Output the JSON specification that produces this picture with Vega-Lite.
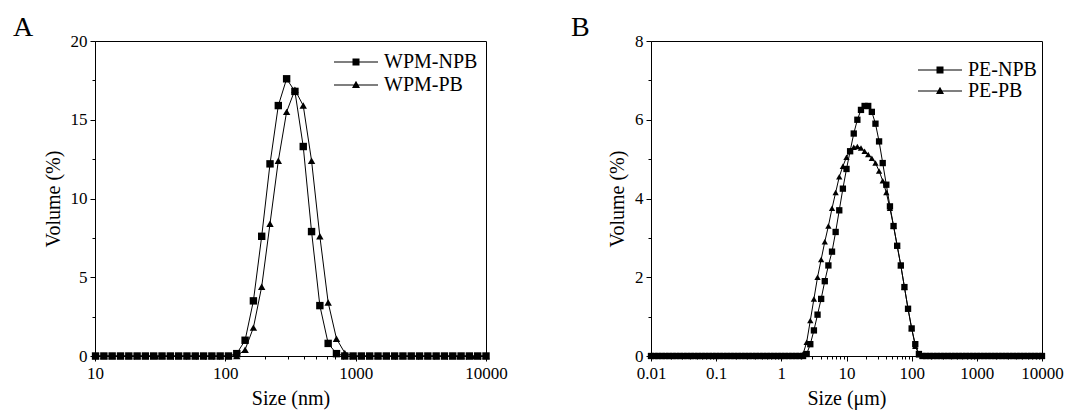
{
"$schema":"https://vega.github.io/schema/vega-lite/v6.json",
"padding":{"left":12,"top":13,"right":5,"bottom":5},
"datasets":{
"a":[
{"x":10.1,"NPB":0,"PB":0},{"x":11.7,"NPB":0,"PB":0},{"x":13.54,"NPB":0,"PB":0},{"x":15.69,"NPB":0,"PB":0},{"x":18.17,"NPB":0,"PB":0},{"x":21.04,"NPB":0,"PB":0},{"x":24.36,"NPB":0,"PB":0},{"x":28.21,"NPB":0,"PB":0},{"x":32.67,"NPB":0,"PB":0},{"x":37.84,"NPB":0,"PB":0},{"x":43.82,"NPB":0,"PB":0},{"x":50.75,"NPB":0,"PB":0},{"x":58.77,"NPB":0,"PB":0},{"x":68.06,"NPB":0,"PB":0},{"x":78.82,"NPB":0,"PB":0},{"x":91.28,"NPB":0,"PB":0},{"x":105.7,"NPB":0,"PB":0},
{"x":122.4,"NPB":0.15,"PB":0},{"x":141.8,"NPB":1.0,"PB":0.4},{"x":164.2,"NPB":3.5,"PB":1.8},{"x":190.1,"NPB":7.6,"PB":4.4},{"x":220.2,"NPB":12.2,"PB":8.4},{"x":255,"NPB":15.9,"PB":12.4},{"x":295.3,"NPB":17.6,"PB":15.5},{"x":342,"NPB":16.8,"PB":16.9},{"x":396.1,"NPB":13.3,"PB":15.9},{"x":458.7,"NPB":7.9,"PB":12.4},{"x":531.2,"NPB":3.2,"PB":7.6},{"x":615.1,"NPB":0.8,"PB":3.4},{"x":712.4,"NPB":0.15,"PB":1.1},{"x":825,"NPB":0,"PB":0.2},
{"x":955.4,"NPB":0,"PB":0},{"x":1106,"NPB":0,"PB":0},{"x":1281,"NPB":0,"PB":0},{"x":1484,"NPB":0,"PB":0},{"x":1718,"NPB":0,"PB":0},{"x":1990,"NPB":0,"PB":0},{"x":2305,"NPB":0,"PB":0},{"x":2669,"NPB":0,"PB":0},{"x":3091,"NPB":0,"PB":0},{"x":3580,"NPB":0,"PB":0},{"x":4145,"NPB":0,"PB":0},{"x":4801,"NPB":0,"PB":0},{"x":5560,"NPB":0,"PB":0},{"x":6439,"NPB":0,"PB":0},{"x":7456,"NPB":0,"PB":0},{"x":8635,"NPB":0,"PB":0},{"x":10000,"NPB":0,"PB":0}
],
"b":[
{"x":0.01,"NPB":0,"PB":0},{"x":0.01136,"NPB":0,"PB":0},{"x":0.01292,"NPB":0,"PB":0},{"x":0.01468,"NPB":0,"PB":0},{"x":0.01668,"NPB":0,"PB":0},{"x":0.01896,"NPB":0,"PB":0},{"x":0.02154,"NPB":0,"PB":0},{"x":0.02448,"NPB":0,"PB":0},{"x":0.02783,"NPB":0,"PB":0},{"x":0.03162,"NPB":0,"PB":0},{"x":0.03594,"NPB":0,"PB":0},{"x":0.04084,"NPB":0,"PB":0},{"x":0.04642,"NPB":0,"PB":0},{"x":0.05275,"NPB":0,"PB":0},{"x":0.05995,"NPB":0,"PB":0},{"x":0.06813,"NPB":0,"PB":0},{"x":0.07743,"NPB":0,"PB":0},{"x":0.08799,"NPB":0,"PB":0},
{"x":0.1,"NPB":0,"PB":0},{"x":0.1136,"NPB":0,"PB":0},{"x":0.1292,"NPB":0,"PB":0},{"x":0.1468,"NPB":0,"PB":0},{"x":0.1668,"NPB":0,"PB":0},{"x":0.1896,"NPB":0,"PB":0},{"x":0.2154,"NPB":0,"PB":0},{"x":0.2448,"NPB":0,"PB":0},{"x":0.2783,"NPB":0,"PB":0},{"x":0.3162,"NPB":0,"PB":0},{"x":0.3594,"NPB":0,"PB":0},{"x":0.4084,"NPB":0,"PB":0},{"x":0.4642,"NPB":0,"PB":0},{"x":0.5275,"NPB":0,"PB":0},{"x":0.5995,"NPB":0,"PB":0},{"x":0.6813,"NPB":0,"PB":0},{"x":0.7743,"NPB":0,"PB":0},{"x":0.8799,"NPB":0,"PB":0},
{"x":1,"NPB":0,"PB":0},{"x":1.136,"NPB":0,"PB":0},{"x":1.292,"NPB":0,"PB":0},{"x":1.468,"NPB":0,"PB":0},{"x":1.668,"NPB":0,"PB":0},{"x":1.896,"NPB":0,"PB":0},{"x":2.154,"NPB":0,"PB":0.05},{"x":2.448,"NPB":0.05,"PB":0.35},{"x":2.783,"NPB":0.3,"PB":0.9},{"x":3.162,"NPB":0.65,"PB":1.45},{"x":3.594,"NPB":1.05,"PB":2.0},{"x":4.084,"NPB":1.45,"PB":2.45},{"x":4.642,"NPB":1.9,"PB":2.9},{"x":5.275,"NPB":2.3,"PB":3.3},{"x":5.995,"NPB":2.65,"PB":3.75},{"x":6.813,"NPB":3.15,"PB":4.15},{"x":7.743,"NPB":3.7,"PB":4.55},{"x":8.799,"NPB":4.25,"PB":4.82},
{"x":10,"NPB":4.75,"PB":5.05},{"x":11.36,"NPB":5.2,"PB":5.22},{"x":12.92,"NPB":5.65,"PB":5.3},{"x":14.68,"NPB":6.0,"PB":5.32},{"x":16.68,"NPB":6.25,"PB":5.28},{"x":18.96,"NPB":6.35,"PB":5.2},{"x":21.54,"NPB":6.35,"PB":5.12},{"x":24.48,"NPB":6.2,"PB":5.02},{"x":27.83,"NPB":5.9,"PB":4.9},{"x":31.62,"NPB":5.45,"PB":4.7},{"x":35.94,"NPB":4.9,"PB":4.45},{"x":40.84,"NPB":4.35,"PB":4.15},{"x":46.42,"NPB":3.8,"PB":3.75},{"x":52.75,"NPB":3.3,"PB":3.3},{"x":59.95,"NPB":2.8,"PB":2.8},{"x":68.13,"NPB":2.3,"PB":2.3},{"x":77.43,"NPB":1.75,"PB":1.75},{"x":87.99,"NPB":1.2,"PB":1.2},
{"x":100,"NPB":0.7,"PB":0.7},{"x":113.6,"NPB":0.3,"PB":0.25},{"x":129.2,"NPB":0.05,"PB":0.03},{"x":146.8,"NPB":0,"PB":0},{"x":166.8,"NPB":0,"PB":0},{"x":189.6,"NPB":0,"PB":0},{"x":215.4,"NPB":0,"PB":0},{"x":244.8,"NPB":0,"PB":0},{"x":278.3,"NPB":0,"PB":0},{"x":316.2,"NPB":0,"PB":0},{"x":359.4,"NPB":0,"PB":0},{"x":408.4,"NPB":0,"PB":0},{"x":464.2,"NPB":0,"PB":0},{"x":527.5,"NPB":0,"PB":0},{"x":599.5,"NPB":0,"PB":0},{"x":681.3,"NPB":0,"PB":0},{"x":774.3,"NPB":0,"PB":0},{"x":879.9,"NPB":0,"PB":0},
{"x":1000,"NPB":0,"PB":0},{"x":1136,"NPB":0,"PB":0},{"x":1292,"NPB":0,"PB":0},{"x":1468,"NPB":0,"PB":0},{"x":1668,"NPB":0,"PB":0},{"x":1896,"NPB":0,"PB":0},{"x":2154,"NPB":0,"PB":0},{"x":2448,"NPB":0,"PB":0},{"x":2783,"NPB":0,"PB":0},{"x":3162,"NPB":0,"PB":0},{"x":3594,"NPB":0,"PB":0},{"x":4084,"NPB":0,"PB":0},{"x":4642,"NPB":0,"PB":0},{"x":5275,"NPB":0,"PB":0},{"x":5995,"NPB":0,"PB":0},{"x":6813,"NPB":0,"PB":0},{"x":7743,"NPB":0,"PB":0},{"x":8799,"NPB":0,"PB":0},
{"x":10000,"NPB":0,"PB":0}
]
},
"hconcat":[
{
"width":391,"height":315,
"title":{"text":"A","anchor":"start","frame":"group","dx":-82,"fontSize":28,"fontWeight":"normal","font":"Liberation Serif","color":"black","offset":-10},
"data":{"name":"a"},
"transform":[{"fold":["NPB","PB"],"as":["series","vol"]}],
"layer":[
{"mark":{"type":"line","color":"black","strokeWidth":1},
"encoding":{
"x":{"field":"x","type":"quantitative","scale":{"type":"log","domain":[10,10000]},"axis":{"values":[10,100,1000,10000],"format":"~g","title":"Size (nm)","labelFlush":false,"labelOverlap":false,"orient":"bottom","labelFont":"Liberation Serif","titleFont":"Liberation Serif","labelPadding":4}},
"y":{"field":"vol","type":"quantitative","scale":{"domain":[0,20]},"axis":{"values":[0,5,10,15,20],"title":"Volume (%)","orient":"left","labelFont":"Liberation Serif","titleFont":"Liberation Serif"}},
"detail":{"field":"series"}}},
{"mark":{"type":"point","filled":true,"color":"black","opacity":1,"size":55},
"encoding":{
"x":{"field":"x","type":"quantitative","axis":{"values":[20,30,40,50,60,70,80,90,200,300,400,500,600,700,800,900,2000,3000,4000,5000,6000,7000,8000,9000],"labels":false,"domain":false,"tickSize":3,"title":null,"orient":"bottom"}},
"y":{"field":"vol","type":"quantitative","axis":{"values":[2.5,7.5,12.5,17.5],"labels":false,"domain":false,"tickSize":3,"title":null,"orient":"left"}},
"shape":{"field":"series","type":"nominal","scale":{"domain":["NPB","PB"],"range":["square","triangle-up"]},"legend":null}}},
{"transform":[{"filter":"false"}],
"mark":{"type":"point","filled":true,"color":"black"},
"encoding":{
"x":{"field":"x","type":"quantitative","axis":null},
"y":{"field":"vol","type":"quantitative","axis":null},
"shape":{"field":"series","type":"nominal","scale":{"domain":["NPB","PB"],"range":["M-4.4,-0.1H4.4V0.1H-4.4ZM-0.7,-0.7H0.7V0.7H-0.7Z","M-4.4,-0.1H4.4V0.1H-4.4ZM0,-0.85L0.8,0.6H-0.8Z"]},
"legend":{"orient":"none","legendX":251,"legendY":11,"title":null,"labelExpr":"'WPM-' + datum.label","labelFontSize":20,"labelFont":"Liberation Serif","labelColor":"black","symbolSize":100,"symbolFillColor":"black","symbolStrokeColor":"black","symbolStrokeWidth":0,"symbolOpacity":1,"labelOffset":18,"rowPadding":3,"padding":0}}}}
],
"resolve":{"axis":{"x":"independent","y":"independent"},"scale":{"shape":"independent"}}
},
{
"width":391,"height":315,
"title":{"text":"B","anchor":"start","frame":"group","dx":-80,"fontSize":28,"fontWeight":"normal","font":"Liberation Serif","color":"black","offset":-10},
"data":{"name":"b"},
"transform":[{"fold":["NPB","PB"],"as":["series","vol"]}],
"layer":[
{"mark":{"type":"line","color":"black","strokeWidth":1},
"encoding":{
"x":{"field":"x","type":"quantitative","scale":{"type":"log","domain":[0.01,10000]},"axis":{"values":[0.01,0.1,1,10,100,1000,10000],"format":"~g","title":"Size (μm)","labelFlush":false,"labelOverlap":false,"orient":"bottom","labelFont":"Liberation Serif","titleFont":"Liberation Serif","labelPadding":4}},
"y":{"field":"vol","type":"quantitative","scale":{"domain":[0,8]},"axis":{"values":[0,2,4,6,8],"title":"Volume (%)","orient":"left","labelFont":"Liberation Serif","titleFont":"Liberation Serif"}},
"detail":{"field":"series"}}},
{"mark":{"type":"point","filled":true,"color":"black","opacity":1,"size":40},
"encoding":{
"x":{"field":"x","type":"quantitative","axis":{"values":[0.02,0.03,0.04,0.05,0.06,0.07,0.08,0.09,0.2,0.3,0.4,0.5,0.6,0.7,0.8,0.9,2,3,4,5,6,7,8,9,20,30,40,50,60,70,80,90,200,300,400,500,600,700,800,900,2000,3000,4000,5000,6000,7000,8000,9000],"labels":false,"domain":false,"tickSize":3,"title":null,"orient":"bottom"}},
"y":{"field":"vol","type":"quantitative","axis":{"values":[1,3,5,7],"labels":false,"domain":false,"tickSize":3,"title":null,"orient":"left"}},
"shape":{"field":"series","type":"nominal","scale":{"domain":["NPB","PB"],"range":["square","triangle-up"]},"legend":null}}},
{"transform":[{"filter":"false"}],
"mark":{"type":"point","filled":true,"color":"black"},
"encoding":{
"x":{"field":"x","type":"quantitative","axis":null},
"y":{"field":"vol","type":"quantitative","axis":null},
"shape":{"field":"series","type":"nominal","scale":{"domain":["NPB","PB"],"range":["M-4.4,-0.1H4.4V0.1H-4.4ZM-0.7,-0.7H0.7V0.7H-0.7Z","M-4.4,-0.1H4.4V0.1H-4.4ZM0,-0.85L0.8,0.6H-0.8Z"]},
"legend":{"orient":"none","legendX":279,"legendY":19,"title":null,"labelExpr":"'PE-' + datum.label","labelFontSize":20,"labelFont":"Liberation Serif","labelColor":"black","symbolSize":100,"symbolFillColor":"black","symbolStrokeColor":"black","symbolStrokeWidth":0,"symbolOpacity":1,"labelOffset":18,"rowPadding":1,"padding":0}}}}
],
"resolve":{"axis":{"x":"independent","y":"independent"},"scale":{"shape":"independent"}}
}
],
"spacing":62,
"config":{
"font":"Liberation Serif",
"view":{"stroke":"black","strokeWidth":1},
"axis":{"grid":false,"domainColor":"black","tickColor":"black","labelColor":"black","titleColor":"black","labelFont":"Liberation Serif","titleFont":"Liberation Serif","labelFontSize":17,"titleFontSize":20,"titleFontWeight":"normal","tickSize":5,"domainWidth":1,"tickWidth":1,"labelPadding":3,"titlePadding":7}
}
}
